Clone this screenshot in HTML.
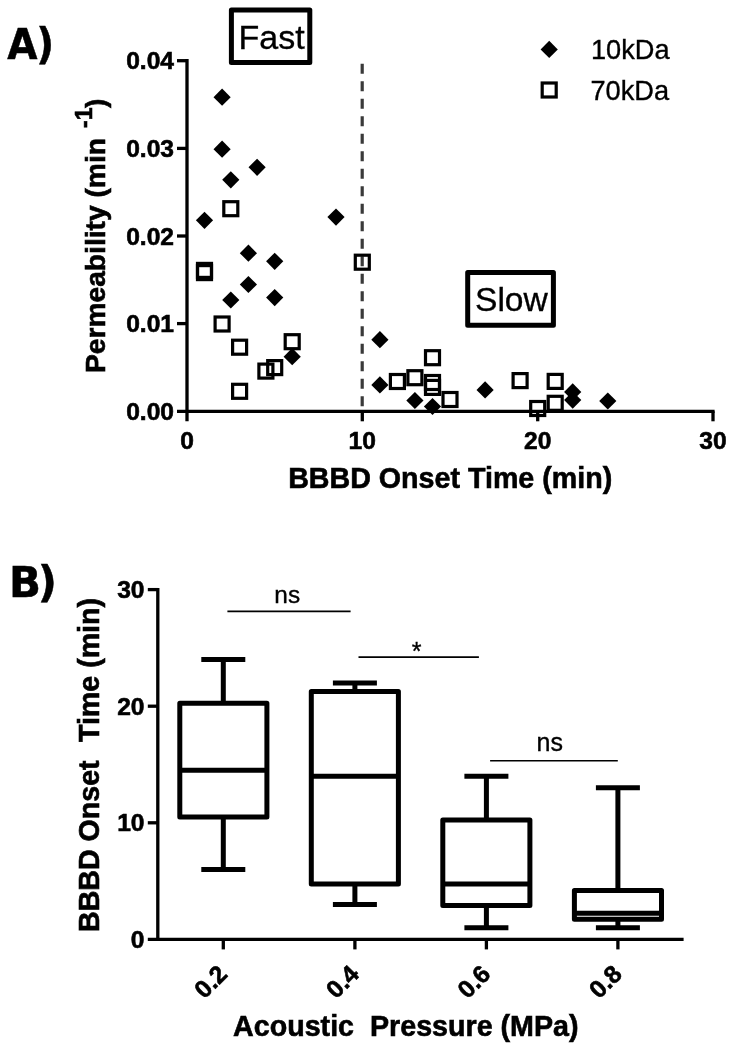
<!DOCTYPE html>
<html><head><meta charset="utf-8"><title>Figure</title>
<style>
html,body{margin:0;padding:0;background:#fff;}
svg{display:block;will-change:transform;}
text{font-family:"Liberation Sans",Arial,sans-serif;fill:#000;stroke:#000;stroke-width:0.35;}
.b{font-weight:bold;}
.t{font-size:24.6px;font-weight:bold;stroke-width:0.6;}
.l{font-size:28.2px;font-weight:bold;stroke-width:0.6;}
.pl{font-family:"DejaVu Sans",sans-serif;font-weight:bold;font-size:42px;stroke-width:0.5;}
.ax{stroke:#000;stroke-width:3.3;fill:none;}
.bx{stroke:#000;stroke-width:5;fill:none;}
</style></head><body>
<svg width="734" height="1050" viewBox="0 0 734 1050">
<rect width="734" height="1050" fill="#fff"/>

<text class="pl" transform="translate(7.3 58.6) scale(0.93 1)">A<tspan dx="-1.5">)</tspan></text>
<path class="ax" d="M187.0 59.1V421.3 M177.0 411.3H714.6"/>
<text class="t" text-anchor="end" x="174" y="419.8">0.00</text>
<path class="ax" d="M177.0 323.6H187.0"/>
<text class="t" text-anchor="end" x="174" y="332.1">0.01</text>
<path class="ax" d="M177.0 236.0H187.0"/>
<text class="t" text-anchor="end" x="174" y="244.5">0.02</text>
<path class="ax" d="M177.0 148.4H187.0"/>
<text class="t" text-anchor="end" x="174" y="156.9">0.03</text>
<path class="ax" d="M177.0 60.7H187.0"/>
<text class="t" text-anchor="end" x="174" y="69.2">0.04</text>
<path class="ax" d="M362.3 411.3V421.3"/>
<path class="ax" d="M537.7 411.3V421.3"/>
<path class="ax" d="M713.0 411.3V421.3"/>
<text class="t" text-anchor="middle" x="187.0" y="449.3">0</text>
<text class="t" text-anchor="middle" x="362.3" y="449.3">10</text>
<text class="t" text-anchor="middle" x="537.7" y="449.3">20</text>
<text class="t" text-anchor="middle" x="713.0" y="449.3">30</text>
<text class="l" style="font-size:28.65px" text-anchor="middle" x="450.2" y="488.0">BBBD Onset Time (min)</text>
<text class="l" transform="translate(105.2 373) rotate(-90)">Permeability (min <tspan font-size="23" dy="-13.3" dx="2.2">-1</tspan><tspan dy="13.3" dx="-0.5">)</tspan></text>
<path d="M362.2 63.8V408" stroke="#3a3a3a" stroke-width="3.2" stroke-dasharray="10 7.5" fill="none"/>
<path d="M204.5 211.7L213.1 220.3L204.5 228.9L195.9 220.3Z" fill="#000"/>
<path d="M222.1 88.6L230.7 97.2L222.1 105.8L213.5 97.2Z" fill="#000"/>
<path d="M222.1 140.6L230.7 149.2L222.1 157.8L213.5 149.2Z" fill="#000"/>
<path d="M230.8 171.2L239.4 179.8L230.8 188.4L222.2 179.8Z" fill="#000"/>
<path d="M257.1 158.7L265.7 167.3L257.1 175.9L248.5 167.3Z" fill="#000"/>
<path d="M336.0 208.5L344.6 217.1L336.0 225.7L327.4 217.1Z" fill="#000"/>
<path d="M248.4 244.6L257.0 253.2L248.4 261.8L239.8 253.2Z" fill="#000"/>
<path d="M274.7 252.7L283.3 261.3L274.7 269.9L266.1 261.3Z" fill="#000"/>
<path d="M248.4 275.9L257.0 284.5L248.4 293.1L239.8 284.5Z" fill="#000"/>
<path d="M230.8 291.4L239.4 300.0L230.8 308.6L222.2 300.0Z" fill="#000"/>
<path d="M274.7 289.0L283.3 297.6L274.7 306.2L266.1 297.6Z" fill="#000"/>
<path d="M292.2 348.1L300.8 356.7L292.2 365.3L283.6 356.7Z" fill="#000"/>
<path d="M379.9 331.1L388.5 339.7L379.9 348.3L371.3 339.7Z" fill="#000"/>
<path d="M379.9 376.3L388.5 384.9L379.9 393.5L371.3 384.9Z" fill="#000"/>
<path d="M414.9 391.9L423.5 400.5L414.9 409.1L406.3 400.5Z" fill="#000"/>
<path d="M432.5 397.9L441.1 406.5L432.5 415.1L423.9 406.5Z" fill="#000"/>
<path d="M485.1 381.3L493.7 389.9L485.1 398.5L476.5 389.9Z" fill="#000"/>
<path d="M572.7 383.3L581.3 391.9L572.7 400.5L564.1 391.9Z" fill="#000"/>
<path d="M572.7 391.5L581.3 400.1L572.7 408.7L564.1 400.1Z" fill="#000"/>
<path d="M607.8 392.4L616.4 401.0L607.8 409.6L599.2 401.0Z" fill="#000"/>
<rect x="197.5" y="263.4" width="14" height="14" fill="none" stroke="#000" stroke-width="3.2"/>
<rect x="197.5" y="265.6" width="14" height="14" fill="none" stroke="#000" stroke-width="3.2"/>
<rect x="223.8" y="201.7" width="14" height="14" fill="none" stroke="#000" stroke-width="3.2"/>
<rect x="355.3" y="255.2" width="14" height="14" fill="none" stroke="#000" stroke-width="3.2"/>
<rect x="215.1" y="317.0" width="14" height="14" fill="none" stroke="#000" stroke-width="3.2"/>
<rect x="232.6" y="340.2" width="14" height="14" fill="none" stroke="#000" stroke-width="3.2"/>
<rect x="285.2" y="334.7" width="14" height="14" fill="none" stroke="#000" stroke-width="3.2"/>
<rect x="267.7" y="360.6" width="14" height="14" fill="none" stroke="#000" stroke-width="3.2"/>
<rect x="258.9" y="364.1" width="14" height="14" fill="none" stroke="#000" stroke-width="3.2"/>
<rect x="232.6" y="384.3" width="14" height="14" fill="none" stroke="#000" stroke-width="3.2"/>
<rect x="390.4" y="374.5" width="14" height="14" fill="none" stroke="#000" stroke-width="3.2"/>
<rect x="407.9" y="370.7" width="14" height="14" fill="none" stroke="#000" stroke-width="3.2"/>
<rect x="425.5" y="350.7" width="14" height="14" fill="none" stroke="#000" stroke-width="3.2"/>
<rect x="425.5" y="375.5" width="14" height="14" fill="none" stroke="#000" stroke-width="3.2"/>
<rect x="425.5" y="380.4" width="14" height="14" fill="none" stroke="#000" stroke-width="3.2"/>
<rect x="443.0" y="392.5" width="14" height="14" fill="none" stroke="#000" stroke-width="3.2"/>
<rect x="513.1" y="373.6" width="14" height="14" fill="none" stroke="#000" stroke-width="3.2"/>
<rect x="548.2" y="374.4" width="14" height="14" fill="none" stroke="#000" stroke-width="3.2"/>
<rect x="548.2" y="396.3" width="14" height="14" fill="none" stroke="#000" stroke-width="3.2"/>
<rect x="530.7" y="401.5" width="14" height="14" fill="none" stroke="#000" stroke-width="3.2"/>
<rect x="231.4" y="9.9" width="78.4" height="52.5" fill="#fff" stroke="#000" stroke-width="5" stroke-linejoin="round"/>
<text font-size="34" x="238.6" y="48.8">Fast</text>
<rect x="467.7" y="272.6" width="85.7" height="52.7" fill="#fff" stroke="#000" stroke-width="5" stroke-linejoin="round"/>
<text font-size="33.6" x="475" y="311.4">Slow</text>
<path d="M549.2 40.8L557.8 49.4L549.2 58.0L540.6 49.4Z" fill="#000"/>
<rect x="542.2" y="83.0" width="14" height="14" fill="none" stroke="#000" stroke-width="3.2"/>
<text font-size="27.2" x="591" y="59.3">10kDa</text>
<text font-size="27.2" x="590.5" y="99.5">70kDa</text>
<text class="pl" x="9" y="597">B<tspan dx="-3.2">)</tspan></text>
<path class="ax" d="M157.8 588.0V941.0 M147.8 939.4H683.6"/>
<text class="t" text-anchor="end" x="144.5" y="947.9">0</text>
<path class="ax" d="M147.8 822.8H157.8"/>
<text class="t" text-anchor="end" x="144.5" y="831.3">10</text>
<path class="ax" d="M147.8 706.2H157.8"/>
<text class="t" text-anchor="end" x="144.5" y="714.7">20</text>
<path class="ax" d="M147.8 589.6H157.8"/>
<text class="t" text-anchor="end" x="144.5" y="598.1">30</text>
<path class="ax" d="M223.3 939.4V949.4"/>
<text class="t" text-anchor="end" transform="translate(228.8 975.5) rotate(-45)">0.2</text>
<path class="ax" d="M354.9 939.4V949.4"/>
<text class="t" text-anchor="end" transform="translate(360.4 975.5) rotate(-45)">0.4</text>
<path class="ax" d="M486.4 939.4V949.4"/>
<text class="t" text-anchor="end" transform="translate(491.9 975.5) rotate(-45)">0.6</text>
<path class="ax" d="M617.9 939.4V949.4"/>
<text class="t" text-anchor="end" transform="translate(623.4 975.5) rotate(-45)">0.8</text>
<text class="l" style="font-size:28.65px" text-anchor="middle" x="405.8" y="1035.6">Acoustic&#160; Pressure (MPa)</text>
<text class="l" style="font-size:28.6px" transform="translate(98.5 932) rotate(-90)">BBBD Onset&#160; <tspan dx="2.5">Time (min)</tspan></text>
<path class="bx" d="M223.3 659.6V703.3 M223.3 817.0V869.4 M201.3 659.6H245.3 M201.3 869.4H245.3 M179.8 770.3H266.9"/>
<rect class="bx" stroke-linejoin="round" x="179.8" y="703.3" width="87.1" height="113.7"/>
<path class="bx" d="M354.9 682.9V691.6 M354.9 884.0V904.4 M332.9 682.9H376.9 M332.9 904.4H376.9 M311.3 776.2H398.4"/>
<rect class="bx" stroke-linejoin="round" x="311.3" y="691.6" width="87.1" height="192.4"/>
<path class="bx" d="M486.4 776.2V819.9 M486.4 905.6V927.7 M464.4 776.2H508.4 M464.4 927.7H508.4 M442.8 884.0H529.9"/>
<rect class="bx" stroke-linejoin="round" x="442.8" y="819.9" width="87.1" height="85.7"/>
<path class="bx" d="M617.9 787.8V890.4 M617.9 919.2V927.7 M595.9 787.8H639.9 M595.9 927.7H639.9 M574.4 913.2H661.4"/>
<rect class="bx" stroke-linejoin="round" x="574.4" y="890.4" width="87.1" height="28.8"/>
<path d="M227.4 611.4H350.6 M358.5 657.1H478.9 M490.1 760.8H617.8" stroke="#000" stroke-width="1.6" fill="none"/>
<text font-size="24.4" text-anchor="middle" x="287.2" y="603.4">ns</text>
<text font-size="25" text-anchor="middle" x="549.8" y="750.8">ns</text>
<text font-size="25" text-anchor="middle" x="416.6" y="659.5">*</text>
</svg></body></html>
